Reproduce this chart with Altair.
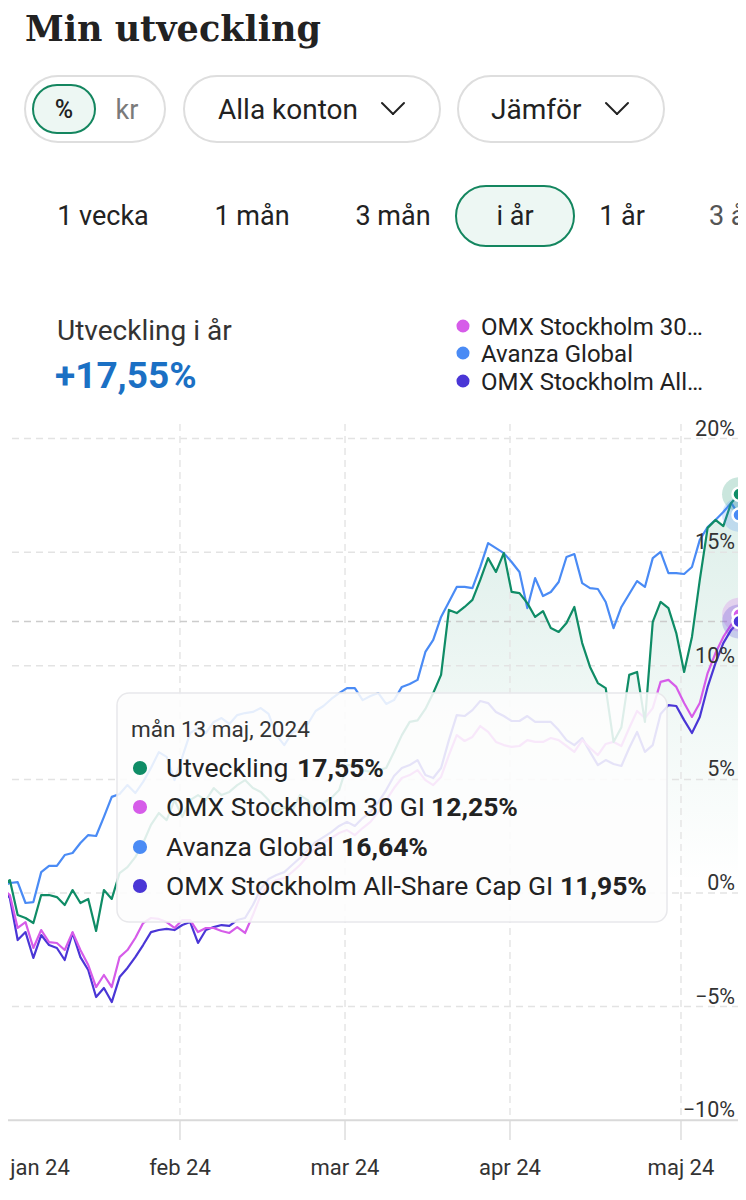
import altair as alt
import pandas as pd

# ---------------- data ----------------
series_names = ["Utveckling", "OMX Stockholm 30 GI", "Avanza Global", "OMX Stockholm All-Share Cap GI"]
series_colors = ["#0f8c66", "#d65ce9", "#4a8bf5", "#4a36d6"]
day_index = list(range(95))

utveckling = [0.3, 0.57, -0.97, -1.1, -1.32, -0.09, -0.09, -0.18, -0.53, 0.13,
              -0.44, -0.26, -1.67, 0.13, -0.26, 0.88, 1.14, 1.58, 2.2, 3.0,
              3.52, 3.21, 4.09, 3.35, 4.09, 4.31, 4.09, 4.62, 4.31, 4.45,
              4.75, 4.97, 4.62, 4.45, 4.09, 3.57, 3.79, 3.57, 4.31, 4.09,
              3.57, 3.96, 4.18, 4.53, 5.63, 5.63, 5.41, 5.33, 5.41, 5.5,
              6.21, 6.95, 7.53, 7.6, 8.1, 8.8, 9.6, 12.46, 12.32, 12.59,
              12.9, 13.78, 14.74, 14.13, 14.96, 13.25, 13.2, 12.76, 12.15, 12.41,
              11.66, 11.49, 11.88, 12.59, 11.0, 9.95, 9.24, 9.02, 6.65, 7.3,
              9.6, 9.73, 7.53, 11.93, 12.81, 12.54, 11.44, 9.73, 11.27, 13.78,
              16.07, 16.42, 16.15, 17.17, 17.55]

omx30 = [0.2, -0.09, -1.54, -1.28, -2.42, -1.63, -2.16, -2.2, -2.51, -1.72,
         -2.51, -3.17, -4.14, -3.61, -4.14, -2.82, -2.51, -1.98, -1.32, -1.1,
         -1.14, -1.28, -1.54, -1.19, -1.19, -1.72, -1.54, -1.54, -1.67, -1.76,
         -1.5, -1.76, -0.97, -0.09, 0.35, 0.57, 0.66, 0.92, 1.23, 1.63,
         1.98, 2.2, 2.42, 2.64, 2.77, 2.55, 2.86, 3.13, 3.57, 4.09,
         4.62, 5.06, 5.19, 5.41, 4.97, 4.75, 5.11, 6.07, 6.95, 6.69,
         6.87, 7.35, 7.09, 6.65, 6.51, 6.43, 6.47, 6.73, 6.65, 6.65,
         6.82, 6.73, 6.47, 6.21, 6.73, 6.38, 6.07, 6.56, 6.65, 6.47,
         7.26, 8.01, 7.7, 8.14, 9.29, 9.38, 9.07, 8.36, 7.75, 8.36,
         9.68, 10.56, 11.27, 11.8, 12.25]

avanza_global = [0.3, 0.44, 0.48, -0.44, -0.4, 0.92, 1.19, 1.19, 1.67, 1.76,
                 2.2, 2.55, 2.51, 3.35, 4.23, 4.36, 4.75, 4.4, 4.89, 5.5,
                 6.2, 5.99, 4.97, 5.99, 7.04, 7.26, 7.04, 7.53, 7.7, 7.44,
                 7.83, 7.92, 7.97, 8.14, 7.88, 6.95, 6.51, 7.04, 7.22, 7.44,
                 8.01, 8.23, 8.54, 8.8, 9.02, 9.02, 8.49, 8.67, 8.8, 8.32,
                 8.49, 9.07, 9.2, 9.38, 10.61, 11.14, 12.15, 12.81, 13.47, 13.47,
                 13.42, 14.35, 15.4, 15.18, 14.96, 14.57, 14.13, 12.54, 13.86, 13.07,
                 13.25, 13.69, 14.79, 14.92, 13.64, 13.42, 13.38, 12.81, 11.66, 12.59,
                 13.16, 13.73, 13.47, 14.74, 15.01, 14.08, 14.08, 14.04, 14.35, 15.54,
                 16.11, 16.42, 16.77, 17.17, 16.64]

omx_all_share = [0.2, -0.22, -2.07, -1.72, -2.86, -1.85, -2.29, -2.42, -2.95, -1.76,
                 -2.82, -3.39, -4.58, -4.18, -4.8, -3.7, -3.3, -2.82, -2.29, -1.72,
                 -1.63, -1.58, -1.63, -1.41, -1.28, -2.2, -1.63, -1.5, -1.41, -1.45,
                 -1.19, -1.1, -0.53, 0.18, 0.62, 0.79, 0.92, 1.23, 1.54, 1.89,
                 2.24, 2.46, 2.68, 2.95, 3.13, 2.95, 3.3, 3.57, 4.0, 4.53,
                 5.15, 5.5, 5.63, 5.85, 5.19, 5.06, 5.5, 6.73, 7.83, 7.79,
                 8.05, 8.45, 8.36, 7.97, 7.79, 7.57, 7.57, 7.79, 7.53, 7.53,
                 7.53, 7.17, 6.73, 6.51, 6.82, 6.21, 5.63, 5.85, 5.68, 5.59,
                 6.38, 7.09, 6.21, 6.51, 7.88, 8.27, 8.23, 7.61, 7.04, 7.75,
                 9.07, 10.12, 11.0, 11.58, 11.95]

y_ticks = [-10, -5, 0, 5, 10, 15, 20]
y_tick_labels = ["\u221210%", "\u22125%", "0%", "5%", "10%", "15%", "20%"]
month_labels = ["jan 24", "feb 24", "mar 24", "apr 24", "maj 24"]
month_pos = [4.85, 22.7, 43.75, 64.79, 86.6]
legend_labels = ["OMX Stockholm 30\u2026", "Avanza Global", "OMX Stockholm All\u2026"]
tooltip_date = "m\u00e5n 13 maj, 2024"
tooltip_values = ["17,55%", "12,25%", "16,64%", "11,95%"]
headline_label = "Utveckling i \u00e5r"
headline_value = "+17,55%"
range_options = ["1 vecka", "1 m\u00e5n", "3 m\u00e5n", "i \u00e5r", "1 \u00e5r", "3 \u00e5r"]

for arr in (utveckling, omx30, avanza_global, omx_all_share):
    assert len(arr) == len(day_index)

# ---------------- frames ----------------
order = [(series_names[3], omx_all_share), (series_names[1], omx30),
         (series_names[2], avanza_global), (series_names[0], utveckling)]
lines_df = pd.concat([pd.DataFrame({"i": day_index, "v": vals, "s": name}) for name, vals in order],
                     ignore_index=True)
green_df = pd.DataFrame({"i": day_index, "v": utveckling})
end_df = pd.DataFrame({"i": [day_index[-1]] * 4,
                       "v": [utveckling[-1], avanza_global[-1], omx30[-1], omx_all_share[-1]],
                       "s": [series_names[0], series_names[2], series_names[1], series_names[3]]})
yt_df = pd.DataFrame({"v": y_ticks, "label": y_tick_labels})
grid_df = yt_df[yt_df["v"] > y_ticks[0]]
base_df = yt_df[yt_df["v"] == y_ticks[0]]
month_df = pd.DataFrame({"p": month_pos, "label": month_labels})
month_grid_df = month_df.iloc[1:]
cross_df = pd.DataFrame({"v": [omx_all_share[-1]]})
dummy = pd.DataFrame({"k": [0]})

W, H = 730, 1184
xs = alt.Scale(domain=[0, len(day_index) - 1], range=[-6, 731], nice=False, zero=False)
ys = alt.Scale(domain=[y_ticks[0], y_ticks[-1]], range=[1112.2, 430.6], nice=False, zero=False)
cs = alt.Scale(domain=series_names, range=series_colors)

X = alt.X("i:Q", scale=xs, axis=None)
Y = alt.Y("v:Q", scale=ys, axis=None)
C = alt.Color("s:N", scale=cs, legend=None)

layers = []

# green gradient area (fades out well above the zero line)
layers.append(alt.Chart(green_df).mark_area(
    color=alt.Gradient(gradient="linear",
                       stops=[alt.GradientStop(color="rgba(15,140,102,0.14)", offset=0),
                              alt.GradientStop(color="rgba(15,140,102,0.06)", offset=0.35),
                              alt.GradientStop(color="rgba(15,140,102,0.0)", offset=0.62)],
                       x1=1, x2=1, y1=0, y2=1)
).encode(x=X, y=Y, y2=alt.datum(y_ticks[0])))

# horizontal grid
layers.append(alt.Chart(grid_df).mark_rule(strokeDash=[7, 5], color="#e3e3e3", strokeWidth=1.5)
              .encode(y=Y, x=alt.value(-8), x2=alt.value(738)))
# vertical grid
layers.append(alt.Chart(month_grid_df).mark_rule(strokeDash=[7, 5], color="#e6e6e6", strokeWidth=1.5)
              .encode(x=alt.X("p:Q", scale=xs, axis=None), y=alt.value(416), y2=alt.value(1113)))
# tick marks under axis
layers.append(alt.Chart(month_grid_df).mark_rule(color="#dddddd", strokeWidth=1.5)
              .encode(x=alt.X("p:Q", scale=xs, axis=None), y=alt.value(1113), y2=alt.value(1132)))
# base axis line
layers.append(alt.Chart(base_df).mark_rule(color="#d9d9d9", strokeWidth=2)
              .encode(y=Y, x=alt.value(-8), x2=alt.value(738)))
# crosshair
layers.append(alt.Chart(cross_df).mark_rule(strokeDash=[7, 5], color="#cccccc", strokeWidth=1.5)
              .encode(y=Y, x=alt.value(-8), x2=alt.value(738)))

# lines
layers.append(alt.Chart(lines_df).mark_line(strokeWidth=2.2, strokeJoin="round")
              .encode(x=X, y=Y, color=C, detail="s:N"))

# y labels
layers.append(alt.Chart(yt_df).mark_text(align="right", baseline="alphabetic", dy=-3,
                                         fontSize=21.5, font="Roboto", color="#333333")
              .encode(y=Y, x=alt.value(727), text="label:N"))
# x labels
layers.append(alt.Chart(month_df).mark_text(align="center", baseline="alphabetic",
                                            fontSize=22, font="Roboto", color="#333333")
              .encode(x=alt.X("p:Q", scale=xs, axis=None), y=alt.value(1167), text="label:N"))


def txt(s, x, y, size, weight="normal", color="#222222", align="left", font="Roboto"):
    return alt.Chart(dummy).mark_text(text=s, align=align, baseline="alphabetic", fontSize=size,
                                      fontWeight=weight, color=color, font=font
                                      ).encode(x=alt.value(x), y=alt.value(y))


def rect(x, x2, y, y2, r, fill, stroke, sw, fo=1.0):
    return alt.Chart(dummy).mark_rect(cornerRadius=r, fill=fill, stroke=stroke, strokeWidth=sw,
                                      fillOpacity=fo
                                      ).encode(x=alt.value(x), x2=alt.value(x2), y=alt.value(y), y2=alt.value(y2))


def seg(x, y, x2, y2, color="#222222", sw=2):
    return alt.Chart(dummy).mark_rule(color=color, strokeWidth=sw, strokeCap="round"
                                      ).encode(x=alt.value(x), y=alt.value(y), x2=alt.value(x2), y2=alt.value(y2))


def dot(x, y, color, size):
    return alt.Chart(dummy).mark_point(filled=True, shape="circle", size=size, color=color, opacity=1
                                       ).encode(x=alt.value(x), y=alt.value(y))


# tooltip box
layers.append(rect(109, 659, 685, 914, 12, "#fdfdfd", "#e8e8eb", 1.5, 0.87))
layers.append(txt(tooltip_date, 123, 729, 22.5, color="#333333"))
row_y = [760, 799, 839, 878]
value_x = [289, 423, 333, 552]
for k in range(4):
    layers.append(dot(132, row_y[k], series_colors[k], 200))
    layers.append(txt(series_names[k], 158, row_y[k] + 9, 26.5))
    layers.append(txt(tooltip_values[k], value_x[k], row_y[k] + 9, 26.5, weight="bold"))

# end markers (halo + dot)
layers.append(alt.Chart(end_df).mark_circle(size=1150, opacity=0.22).encode(x=X, y=Y, color=C))
layers.append(alt.Chart(end_df).mark_circle(size=170, opacity=1, stroke="white", strokeWidth=2.5)
              .encode(x=X, y=Y, color=C))

# ---------------- header UI ----------------
layers.append(txt("Min utveckling", 17, 33, 35, weight="bold", font="DejaVu Serif"))

# pill 1 (% / kr)
layers.append(rect(17, 157, 68, 134, 33, "#ffffff", "#dedede", 2))
layers.append(rect(25, 87, 77, 125, 24, "#edf7f3", "#14865f", 2))
layers.append(txt("%", 56, 110, 25, weight=500, align="center"))
layers.append(txt("kr", 119, 111, 27, color="#7a7a7a", align="center"))
# pill 2
layers.append(rect(176, 432, 68, 134, 33, "#ffffff", "#dedede", 2))
layers.append(txt("Alla konton", 210, 111, 28))
layers.append(seg(374, 95, 385, 106))
layers.append(seg(385, 106, 396, 95))
# pill 3
layers.append(rect(450, 656, 68, 134, 33, "#ffffff", "#dedede", 2))
layers.append(txt("J\u00e4mf\u00f6r", 483, 111, 28))
layers.append(seg(598, 95, 609, 106))
layers.append(seg(609, 106, 620, 95))

# time range row
layers.append(rect(448, 566, 178, 238, 30, "#edf7f3", "#14865f", 2))
range_x = [95, 244, 385, 507, 614]
for k, lab in enumerate(range_options[:5]):
    layers.append(txt(lab, range_x[k], 217, 27, align="center"))
layers.append(txt(range_options[5], 701, 217, 27, color="#555555"))

# headline
layers.append(txt(headline_label, 49, 332, 28, color="#333333"))
layers.append(txt(headline_value, 47, 380, 37, weight="bold", color="#1b70c4"))

# legend
leg_y = [318, 345, 373]
leg_col = [series_colors[1], series_colors[2], series_colors[3]]
for k in range(3):
    layers.append(dot(455, leg_y[k], leg_col[k], 170))
    layers.append(txt(legend_labels[k], 473, leg_y[k] + 8.5, 24))

chart = alt.layer(*layers).properties(
    width=W, height=H, padding=0,
    autosize=alt.AutoSizeParams(type="none")
).configure_view(stroke=None)

chart.save("out.html", embed_options={"renderer": "svg", "actions": False})
